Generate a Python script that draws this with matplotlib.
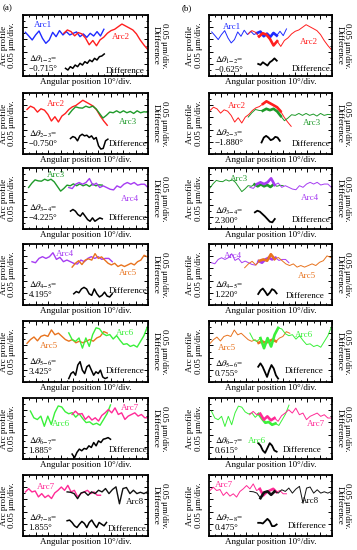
import numpy as np
import matplotlib
matplotlib.use('Agg')
import matplotlib.pyplot as plt

plt.rcParams['font.family'] = ['Liberation Serif', 'DejaVu Serif']
plt.rcParams['mathtext.fontset'] = 'stix'

# arc profiles (relative height, % of panel height), evenly sampled along each arc
arc1 = [1.6, -4.4, -10.9, -2.7, 3.8, -8.2, -16.4, -10.9, 1.6, -5.5, 4.4, -2.7,
        2.7, -2.7, 0.0, 2.2, -5.5, -1.1, -6.6, 0.0, -4.4, 2.7, -4.4, 6.6]
arc2 = [2.7, 8.1, 5.4, -1.6, 3.8, 1.6, -5.4, -16.2, -9.2, -17.8, -8.1, -3.8,
        2.7, 7.0, 9.2, 13.5, 17.8, 14.6, 11.4, 8.1, 1.6, -8.1, -16.2, -23.2]
arc3 = [-5.4, 1.6, 7.0, 5.4, 4.9, 8.1, 5.9, 8.1, 3.8, -3.8, -11.4, -7.0,
        -1.6, -2.7, 0.5, -2.7, 0.5, -2.7, -0.5, -3.8, 0.5, -2.7, -1.1, -1.6]
arc4 = [-2.7, -4.4, 2.7, 5.5, 2.7, 5.5, 12.0, 1.1, 4.4, -2.7, 0.0, -2.7,
        -5.5, -6.6, 0.0, -2.7, 2.7, 5.5, 2.7, 5.5, 1.1, 2.7, 2.7, -2.7]
arc5 = [-8.9, -2.6, 1.6, -4.7, 2.6, 4.7, 2.6, 13.2, 5.3, 7.9, 2.6, -2.6,
        -5.3, -2.6, -7.9, -5.3, -7.9, -5.3, -2.6, -5.3, 0.0, 2.6, 10.5, 7.9]
arc6 = [8.3, -2.8, -5.6, 0.0, -16.7, 0.0, -13.9, 5.6, 16.7, 15.0, 7.2, 3.9,
        5.6, -1.7, 3.9, -3.9, -10.6, -9.4, -13.9, -11.7, -15.0, -5.6, 3.9, 18.3]
arc7 = [1.6, 7.0, 1.6, 3.2, -6.5, -1.1, -7.6, -3.8, -9.2, 0.0, 4.3, 9.7,
        4.3, 12.4, 1.6, 4.3, -6.5, -1.1, 1.6, 4.3, -1.1, 1.6, -3.8, -3.8]
arc8 = [1.7, 1.1, -1.1, -9.4, 0.0, 1.7, -3.9, 1.7, -1.1, 4.4, 1.7, 7.2,
        -1.1, 5.6, 10.0, -17.8, 7.2, 8.9, -1.1, 4.4, -1.1, 1.1, -1.1, 1.7]
arcs = [arc1, arc2, arc3, arc4, arc5, arc6, arc7, arc8]
arc_names = ['Arc1', 'Arc2', 'Arc3', 'Arc4', 'Arc5', 'Arc6', 'Arc7', 'Arc8']
arc_colors = ['#1f2bff', '#ff1f1f', '#1f9a2a', '#a63cf2', '#e8731e',
              '#3af03a', '#ff2a96', '#111111']

# difference curves
diff_a = [
    [12.6, 9.8, 15.3, 12.6, 18.0, 15.3, 20.8, 18.0, 23.5, 20.8, 26.2, 23.5,
     29.0, 26.2, 31.7, 32.8, 36.1],
    [25.4, 28.6, 27.0, 21.6, 29.7, 32.4, 29.7, 30.8, 27.0, 29.7, 24.3, 27.0,
     13.5, 8.1, 9.2, 21.6, 24.3],
    [29.3, 32.0, 29.3, 23.8, 21.0, 26.5, 21.0, 15.5, 12.7, 18.2, 12.7, 15.5,
     18.2, 16.6],
    [18.4, 22.1, 20.0, 26.3, 28.9, 26.3, 18.4, 15.8, 26.3, 18.4, 13.2, 15.8,
     21.1, 14.7, 13.2, 18.4],
    [5.6, 13.9, 16.7, 11.1, 27.8, 33.3, 19.4, 13.9, 25.0, 27.8, 19.4, 11.1,
     16.7, 13.9, 19.4, 8.3, 5.6, 7.2],
    [8.1, 2.0, 10.8, 16.2, 13.5, 17.3, 16.2, 21.6, 18.9, 27.0, 21.6, 29.7,
     27.0, 32.4, 33.5, 35.1, 32.4],
    [25.0, 26.1, 22.2, 16.7, 13.9, 19.4, 23.9, 20.6, 13.9, 22.2, 26.1, 19.4,
     13.9, 22.2, 19.4, 16.7, 22.2],
]
diff_b = [
    [19.8, 18.2, 22.5, 19.8, 17.1, 22.5, 25.1, 28.9, 25.1],
    [18.9, 27.0, 29.7, 27.0, 22.7, 24.3, 28.1, 27.0, 21.6],
    [27.3, 30.0, 28.4, 24.6, 20.8, 16.4, 12.0, 10.9, 16.4],
    [18.0, 24.0, 27.0, 22.0, 16.0, 20.0, 26.0, 24.0, 19.0],
    [25.0, 30.6, 25.0, 16.7, 8.3, 19.4, 27.8, 22.2, 11.1, 5.6],
    [26.0, 22.0, 14.0, 10.0, 18.0, 26.0, 22.0, 14.0, 12.0],
    [21.6, 21.6, 20.5, 24.3, 28.1, 24.3, 16.2, 16.2, 18.9],
]
dtheta_a = ['\u22120.715', '\u22120.750', '\u22124.225', '4.195', '3.425', '1.885', '1.855']
dtheta_b = ['\u22120.625', '\u22121.880', '2.300', '1.220', '0.755', '0.615', '0.475']

# layout: left arc (x0, x1, base), right arc (x0, x1, base), diff (x0, x1)
lay_a = [
    ((1.9, 64.7, 70), (32.6, 99.5, 67.4), (34, 65)),
    ((3.2, 67.4, 70.3), (36.6, 99.5, 70.3), (38, 67.9)),
    ((4.5, 63.4, 73.5), (36.6, 100, 70.7), (38, 63.4)),
    ((7.2, 71.4, 73.7), (39.3, 99.5, 71), (40.6, 71.4)),
    ((3.2, 67.4, 72.2), (36.6, 99.5, 72.2), (36.6, 67.4)),
    ((5.9, 70, 70.3), (39.3, 100, 71.4), (39.3, 70)),
    ((1.9, 62, 70.6), (35.3, 99.5, 70.6), (35.3, 66.8)),
]
lay_b = [
    ((2.2, 63, 70.6), (31.9, 99.5, 66.3), (40, 55.1)),
    ((0.8, 66.8, 68.6), (31.9, 99.5, 66), (42.7, 57.6)),
    ((0.8, 60.3, 72.7), (33.2, 99.5, 71), (37.3, 53.5)),
    ((2, 65, 72), (29, 99, 70), (40, 55)),
    ((0.8, 65.7, 72), (33.2, 99.5, 72), (40, 56.2)),
    ((2, 65, 70), (33, 99.5, 71), (40, 55)),
    ((0.8, 63, 73), (33.2, 99.5, 71.4), (40, 55)),
]
# label positions: left arc, right arc, dtheta y, difference
txt_a = [
    ((8.6, 83.6), (71.4, 63.4), 20, (66, 8.7)),
    ((19.3, 82.7), (76.7, 53), 25, (68.7, 16.2)),
    ((19.3, 87.8), (78, 49.7), 26.5, (68.7, 18.2)),
    ((26, 84), (76.7, 52.6), 26.3, (68.7, 23.7)),
    ((13.9, 58.3), (74, 80.5), 25, (66, 18.3)),
    ((23.3, 56.8), (78, 83.8), 22, (68.7, 15.1)),
    ((11.2, 80.6), (82, 55.6), 22, (67.4, 11.1)),
]
txt_b = [
    ((11.6, 80.2), (73.8, 55.6), 19.7, (67, 11.8)),
    ((15.7, 78.4), (76.5, 50.3), 27, (67, 16.2)),
    ((17, 82), (75, 50.3), 22.4, (67, 15.3)),
    ((12, 80), (72, 48), 25, (62, 14)),
    ((7.6, 55.6), (69.7, 77.8), 22, (61.6, 18.3)),
    ((32, 30), (80, 58), 22, (60, 14)),
    ((4.9, 83.8), (75, 56.8), 22, (64.3, 16.2)),
]

W, H = 357, 550
fig = plt.figure(figsize=(W / 100, H / 100), dpi=100)
row_tops = [15, 93, 168, 244, 321, 398, 475]
ph = 61
cols = [(23, 125), (209, 123)]
fs = 6.5

for c, (lays, txts, diffs, dth) in enumerate([(lay_a, txt_a, diff_a, dtheta_a),
                                             (lay_b, txt_b, diff_b, dtheta_b)]):
    cx, cw = cols[c]
    for i in range(7):
        top = row_tops[i]
        ax = fig.add_axes([cx / W, 1 - (top + ph) / H, cw / W, ph / H])
        ax.set_xlim(0, 100)
        ax.set_ylim(0, 100)
        (l0, l1, lb), (r0, r1, rb), (d0, d1) = lays[i]
        thin = 1.0 if c == 0 else 0.7
        for k, (x0, x1, base) in ((i, (l0, l1, lb)), (i + 1, (r0, r1, rb))):
            p = np.array(arcs[k])
            x = np.linspace(x0, x1, len(p))
            ax.plot(x, base + p, color=arc_colors[k], lw=thin)
            if c == 1:
                m = (x >= d0 - 1) & (x <= d1 + 1)
                ax.plot(x[m], base + p[m], color=arc_colors[k], lw=1.9)
        dv = np.array(diffs[i])
        ax.plot(np.linspace(d0, d1, len(dv)), dv, color='black',
                lw=1.1 if c == 0 else 1.3)
        (la, lr, dy, dfp) = txts[i]
        ax.text(la[0], la[1], arc_names[i], color=arc_colors[i], fontsize=fs, va='center')
        ax.text(lr[0], lr[1], arc_names[i + 1], color=arc_colors[i + 1], fontsize=fs, va='center')
        ax.text(4.5, dy, r'$\Delta\theta_{%d\mathrm{-}%d}$=' % (i + 1, i + 2) + '\n' + dth[i] + '\u00b0',
                fontsize=fs, va='center', linespacing=1.0)
        ax.text(dfp[0], dfp[1], 'Difference', fontsize=fs, va='center')
        ax.text(0.5, -0.04, 'Angular position 10\u00b0/div.', transform=ax.transAxes,
                ha='center', va='top', fontsize=fs)
        ax.text(-0.12, 0.5, 'Arc profile\n0.05 \u03bcm/div.', transform=ax.transAxes,
                rotation=90, ha='center', va='center', fontsize=fs, linespacing=1.1)
        ax.text(1.06, 0.5, 'Difference', transform=ax.transAxes, rotation=-90,
                ha='center', va='center', fontsize=fs)
        ax.text(1.125, 0.5, '0.05 \u03bcm/div.', transform=ax.transAxes, rotation=-90,
                ha='center', va='center', fontsize=fs)
        ax.set_xticks(np.arange(0, 101, 10))
        ax.set_xticks(np.arange(0, 101, 5), minor=True)
        ax.set_yticks(np.arange(0, 101, 20))
        ax.set_yticks(np.arange(0, 101, 10), minor=True)
        ax.tick_params(which='both', direction='in', top=True, right=True,
                       labelbottom=False, labelleft=False, width=0.7)
        ax.tick_params(which='major', length=3)
        ax.tick_params(which='minor', length=1.6)
        for s in ax.spines.values():
            s.set_linewidth(1.3)

fig.text(3 / W, 1 - 8 / H, '(a)', fontsize=fs, va='center')
fig.text(182 / W, 1 - 8 / H, '(b)', fontsize=fs, va='center')
fig.savefig('out.png', dpi=100)
